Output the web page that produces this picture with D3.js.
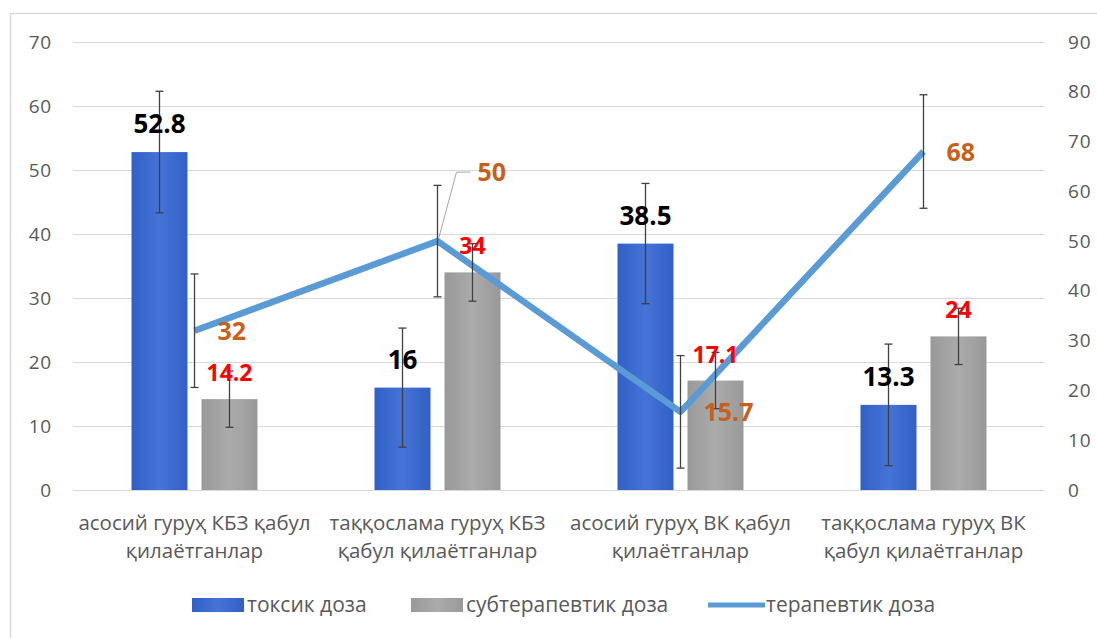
<!DOCTYPE html>
<html>
<head>
<meta charset="utf-8">
<script src="https://cdn.jsdelivr.net/npm/d3@7"></script>
<style>
  body { margin: 0; background: #fff; }
  svg { font-family: "Open Sans", sans-serif; }
</style>
</head>
<body>
<div id="chart"></div>
<script>
const categories = [
  ["асосий гуруҳ КБЗ қабул", "қилаётганлар"],
  ["таққослама гуруҳ КБЗ", "қабул қилаётганлар"],
  ["асосий гуруҳ ВК қабул", "қилаётганлар"],
  ["таққослама гуруҳ ВК", "қабул қилаётганлар"]
];
const toxic = [52.8, 16, 38.5, 13.3];
const toxicErr = [9.5, 9.3, 9.4, 9.5];
const subtherapeutic = [14.2, 34, 17.1, 24];
const subtherapeuticErr = [4.4, 4.5, 4.4, 4.4];
const therapeutic = [32, 50, 15.7, 68];
const therapeuticErr = [11.4, 11.2, 11.3, 11.4];
const leftTicks = [0, 10, 20, 30, 40, 50, 60, 70];
const rightTicks = [0, 10, 20, 30, 40, 50, 60, 70, 80, 90];
const seriesNames = ["токсик доза", "субтерапевтик доза", "терапевтик доза"];

const width = 1097, height = 638;
const plot = { left: 73, right: 1045, top: 42, bottom: 490 };

const svg = d3.select("#chart").append("svg")
  .attr("width", width)
  .attr("height", height);

// gradients for the bars
const defs = svg.append("defs");
function barGradient(id, edge, mid) {
  const g = defs.append("linearGradient").attr("id", id)
    .attr("x1", "0%").attr("x2", "100%").attr("y1", "0%").attr("y2", "0%");
  g.append("stop").attr("offset", "0%").attr("stop-color", edge);
  g.append("stop").attr("offset", "50%").attr("stop-color", mid);
  g.append("stop").attr("offset", "100%").attr("stop-color", edge);
}
barGradient("gBlue", "#3160c6", "#4573d6");
barGradient("gGray", "#999999", "#ababab");

// chart frame (only left and top edges are inside the picture)
svg.append("rect")
  .attr("x", 10.5).attr("y", 13.5)
  .attr("width", 1200).attr("height", 700)
  .attr("fill", "none")
  .attr("stroke", "#d9d9d9")
  .attr("stroke-width", 1.5);

const x0 = d3.scaleBand()
  .domain(d3.range(categories.length))
  .range([plot.left, plot.right]);
const bw = x0.bandwidth();
const x1 = d3.scaleBand()
  .domain(["toxic", "sub"])
  .range([bw / 2 - 63, bw / 2 + 63])
  .paddingInner(0.2);

const yL = d3.scaleLinear().domain([0, 70]).range([plot.bottom, plot.top]);
const yR = d3.scaleLinear().domain([0, 90]).range([plot.bottom, plot.top]);

// gridlines
svg.append("g")
  .selectAll("line")
  .data(leftTicks)
  .join("line")
  .attr("x1", plot.left).attr("x2", plot.right)
  .attr("y1", d => Math.round(yL(d)) + 0.5)
  .attr("y2", d => Math.round(yL(d)) + 0.5)
  .attr("stroke", "#d9d9d9")
  .attr("stroke-width", 1.2);

// left axis
const axisL = svg.append("g")
  .attr("transform", `translate(${plot.left},0)`)
  .call(d3.axisLeft(yL).tickValues(leftTicks).tickSize(0).tickPadding(21));
axisL.select(".domain").remove();
axisL.selectAll("text")
  .attr("font-family", "Open Sans")
  .attr("font-size", 19)
  .attr("letter-spacing", 0.8)
  .attr("fill", "#595959");

// right axis
const axisR = svg.append("g")
  .attr("transform", `translate(${plot.right},0)`)
  .call(d3.axisRight(yR).tickValues(rightTicks).tickSize(0).tickPadding(23));
axisR.select(".domain").remove();
axisR.selectAll("text")
  .attr("font-family", "Open Sans")
  .attr("font-size", 19)
  .attr("letter-spacing", 0.8)
  .attr("fill", "#595959");

// category labels
const catG = svg.append("g");
categories.forEach((lines, i) => {
  const t = catG.append("text")
    .attr("x", x0(i) + bw / 2)
    .attr("y", 530)
    .attr("text-anchor", "middle")
    .attr("font-family", "Open Sans")
    .attr("font-size", 20.5)
    .attr("fill", "#595959");
  lines.forEach((l, j) => {
    t.append("tspan")
      .attr("x", x0(i) + bw / 2)
      .attr("dy", j === 0 ? 0 : 28)
      .text(l);
  });
});

// bars
const bars = svg.append("g");
bars.selectAll(".toxic")
  .data(toxic)
  .join("rect")
  .attr("class", "toxic")
  .attr("x", (d, i) => x0(i) + x1("toxic"))
  .attr("y", d => yL(d))
  .attr("width", x1.bandwidth())
  .attr("height", d => yL(0) - yL(d))
  .attr("fill", "url(#gBlue)");
bars.selectAll(".sub")
  .data(subtherapeutic)
  .join("rect")
  .attr("class", "sub")
  .attr("x", (d, i) => x0(i) + x1("sub"))
  .attr("y", d => yL(d))
  .attr("width", x1.bandwidth())
  .attr("height", d => yL(0) - yL(d))
  .attr("fill", "url(#gGray)");

// therapeutic line (right axis)
const line = d3.line()
  .x((d, i) => x0(i) + bw / 2)
  .y(d => yR(d));
svg.append("path")
  .datum(therapeutic)
  .attr("d", line)
  .attr("fill", "none")
  .attr("stroke", "#5b9bd5")
  .attr("stroke-width", 6.5)
  .attr("stroke-linejoin", "round");

// error bars
function errorBars(values, errs, xf, yScale) {
  const g = svg.append("g")
    .attr("stroke", "#404040")
    .attr("stroke-width", 1.3);
  values.forEach((v, i) => {
    const x = xf(i);
    const yt = yScale(v + errs[i]);
    const yb = yScale(v - errs[i]);
    g.append("line").attr("x1", x).attr("x2", x).attr("y1", yt).attr("y2", yb);
    g.append("line").attr("x1", x - 4).attr("x2", x + 4).attr("y1", yt).attr("y2", yt);
    g.append("line").attr("x1", x - 4).attr("x2", x + 4).attr("y1", yb).attr("y2", yb);
  });
}
errorBars(toxic, toxicErr, i => x0(i) + x1("toxic") + x1.bandwidth() / 2, yL);
errorBars(subtherapeutic, subtherapeuticErr, i => x0(i) + x1("sub") + x1.bandwidth() / 2, yL);
errorBars(therapeutic, therapeuticErr, i => x0(i) + bw / 2, yR);

// data labels
const labels = svg.append("g").attr("font-family", "Open Sans").attr("font-weight", "bold");
labels.selectAll(".lt")
  .data(toxic)
  .join("text")
  .attr("x", (d, i) => x0(i) + x1("toxic") + x1.bandwidth() / 2)
  .attr("y", d => yL(d) - 19)
  .attr("text-anchor", "middle")
  .attr("font-size", 26)
  .attr("fill", "#000")
  .text(d => d);
labels.selectAll(".ls")
  .data(subtherapeutic)
  .join("text")
  .attr("x", (d, i) => x0(i) + x1("sub") + x1.bandwidth() / 2)
  .attr("y", d => yL(d) - 18)
  .attr("text-anchor", "middle")
  .attr("font-size", 23)
  .attr("fill", "#ff0000")
  .text(d => d);

// line labels: right of the point, one moved up with a leader line
const lineLabelOffset = [[0, 0], [40, -69], [0, 0], [0, 0]];
therapeutic.forEach((v, i) => {
  const px = x0(i) + bw / 2, py = yR(v);
  const [dx, dy] = lineLabelOffset[i];
  if (dx !== 0 || dy !== 0) {
    svg.append("path")
      .attr("d", d3.line()([[px + 1, py - 2], [px + 19, py + dy], [px + dx - 7, py + dy]]))
      .attr("fill", "none")
      .attr("stroke", "#a6a6a6")
      .attr("stroke-width", 1);
  }
  labels.append("text")
    .attr("x", px + 23 + (dx ? dx - 23 : 0))
    .attr("y", py + dy + 9)
    .attr("font-size", 25)
    .attr("fill", "#c8601a")
    .text(v);
});

// legend
const legend = svg.append("g").attr("font-family", "Open Sans").attr("font-size", 21).attr("fill", "#595959");
const legendItems = [
  { name: seriesNames[0], x: 192, type: "rect", fill: "url(#gBlue)" },
  { name: seriesNames[1], x: 411, type: "rect", fill: "url(#gGray)" },
  { name: seriesNames[2], x: 708, type: "line", fill: "#5b9bd5" }
];
legendItems.forEach(it => {
  if (it.type === "rect") {
    legend.append("rect")
      .attr("x", it.x).attr("y", 598)
      .attr("width", 52).attr("height", 14)
      .attr("fill", it.fill);
  } else {
    legend.append("line")
      .attr("x1", it.x).attr("x2", it.x + 57)
      .attr("y1", 605).attr("y2", 605)
      .attr("stroke", it.fill)
      .attr("stroke-width", 5);
  }
  legend.append("text")
    .attr("x", it.type === "rect" ? it.x + 55 : it.x + 58)
    .attr("y", 612)
    .text(it.name);
});
</script>
</body>
</html>
